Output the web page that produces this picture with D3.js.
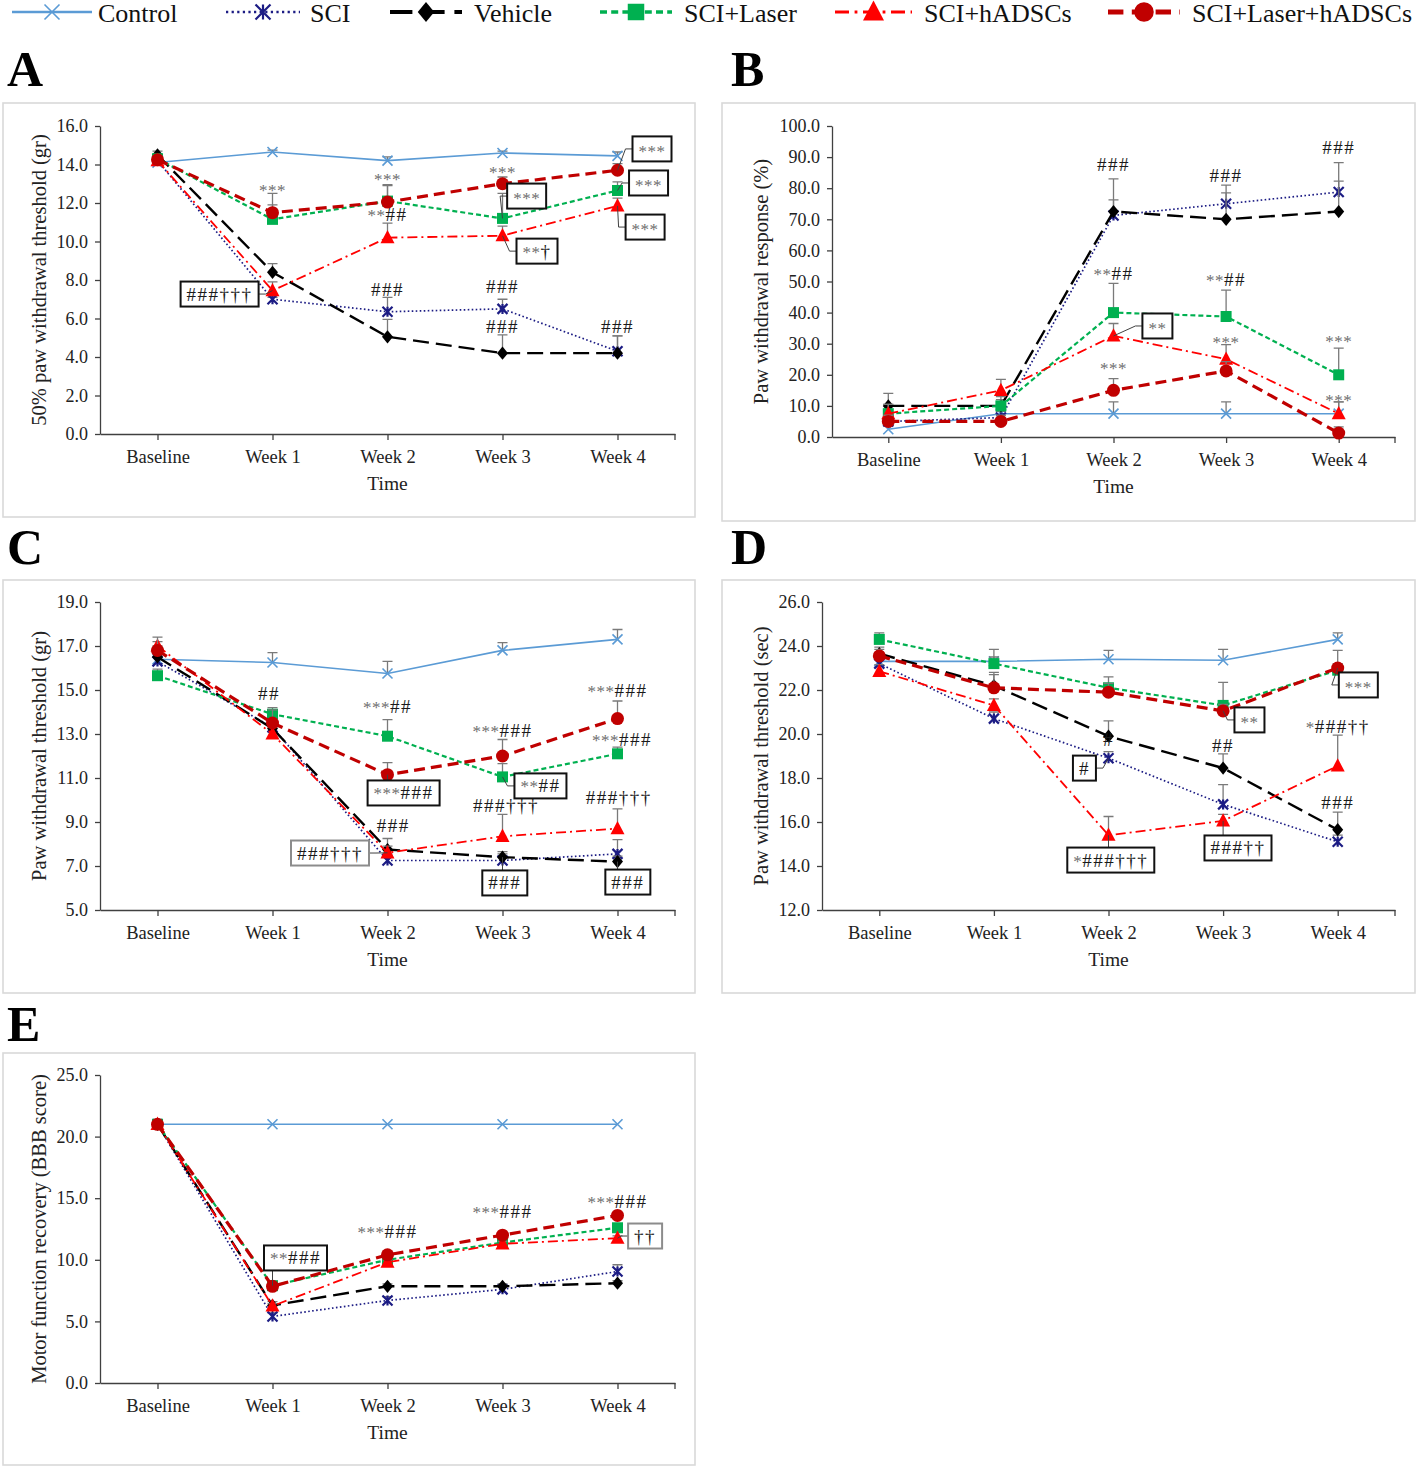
<!DOCTYPE html>
<html>
<head>
<meta charset="utf-8">
<script src="https://cdn.jsdelivr.net/npm/d3@7"></script>
<style>
body{margin:0;background:#fff}
svg text{font-family:"Liberation Serif","DejaVu Serif",serif}
</style>
</head>
<body>
<div id="graphic"></div>
<script>
// ---------------- data ----------------
const categories = ["Baseline", "Week 1", "Week 2", "Week 3", "Week 4"];
const seriesNames = ["Control", "SCI", "Vehicle", "SCI+Laser", "SCI+hADSCs", "SCI+Laser+hADSCs"];

// A: 50% paw withdrawal threshold (gr)
const aControl     = [14.1, 14.65, 14.2, 14.6, 14.45];
const aSCI         = [14.2, 7.0, 6.35, 6.5, 4.3];
const aVehicle     = [14.5, 8.4, 5.05, 4.2, 4.2];
const aLaser       = [14.3, 11.15, 12.1, 11.2, 12.65];
const aHADSC       = [14.2, 7.45, 10.2, 10.3, 11.85];
const aLaserHADSC  = [14.25, 11.5, 12.05, 13.0, 13.7];
const aErr = [[0.2, 0.1, 0.2, 0.1, 0.2], [0.1, 0.1, 0.75, 0.5, 0.8], [0.2, 0.45, 0.9, 0.95, 0.9],
              [0.2, 0.75, 0.8, 1.3, 0.45], [0.2, 0.45, 0.75, 0.5, 0.4], [0.2, 1.0, 0.9, 0.35, 0.35]];

// B: paw withdrawal response (%)
const bControl     = [2.5, 7.5, 7.5, 7.5, 7.5];
const bSCI         = [5, 6.25, 71.25, 75, 78.75];
const bVehicle     = [10, 10, 72.5, 70, 72.5];
const bLaser       = [7.5, 10, 40, 38.75, 20];
const bHADSC       = [7.5, 15, 32.5, 25, 7.5];
const bLaserHADSC  = [5, 5, 15, 21.25, 1.25];
const bErr = [[2, 2, 3.8, 3.8, 3.8], [2, 2, 5, 6, 9.5], [4, 2, 10.5, 8.5, 9.8],
              [3, 3, 9.4, 8.5, 8.6], [3, 3.5, 4, 4.7, 3.8], [2, 2, 3.8, 3, 2]];

// C: paw withdrawal threshold (gr)
const cControl     = [16.4, 16.25, 15.75, 16.8, 17.3];
const cSCI         = [16.3, 13.3, 7.25, 7.25, 7.55];
const cVehicle     = [16.5, 13.25, 7.75, 7.4, 7.2];
const cLaser       = [15.65, 13.9, 12.9, 11.05, 12.1];
const cHADSC       = [17.0, 13.0, 7.6, 8.35, 8.7];
const cLaserHADSC  = [16.8, 13.5, 11.15, 12.0, 13.7];
const cErr = [[0.6, 0.45, 0.55, 0.35, 0.45], [0.2, 0.8, 0.3, 0.3, 0.65], [0.3, 0.8, 0.5, 0.25, 0.25],
              [0.3, 0.3, 0.75, 0.6, 0.3], [0.2, 0.3, 0.3, 1.0, 0.9], [0.6, 0.6, 0.55, 0.75, 0.8]];

// D: paw withdrawal threshold (sec)
const dControl     = [23.3, 23.3, 23.4, 23.35, 24.3];
const dSCI         = [23.2, 20.7, 18.9, 16.8, 15.1];
const dVehicle     = [23.65, 22.2, 19.9, 18.45, 15.65];
const dLaser       = [24.3, 23.2, 22.1, 21.3, 22.9];
const dHADSC       = [22.85, 21.3, 15.4, 16.05, 18.55];
const dLaserHADSC  = [23.55, 22.1, 21.9, 21.05, 23.0];
const dErr = [[0.3, 0.55, 0.4, 0.5, 0.3], [0.3, 0.3, 0.3, 0.9, 0.3], [0.3, 0.6, 0.7, 0.65, 0.8],
              [0.3, 0.3, 0.5, 1.05, 0.3], [0.3, 0.3, 0.85, 0.3, 1.4], [0.3, 0.6, 0.4, 0.3, 0.8]];

// E: BBB score
const eControl     = [21, 21, 21, 21, 21];
const eSCI         = [21, 5.4, 6.7, 7.6, 9.05];
const eVehicle     = [21, 6.3, 7.85, 7.85, 8.1];
const eLaser       = [21, 7.9, 10.0, 11.4, 12.6];
const eHADSC       = [21, 6.25, 9.8, 11.3, 11.75];
const eLaserHADSC  = [21, 7.85, 10.4, 12.0, 13.6];
const eErr = [[0, 0, 0, 0, 0], [0, 0.3, 0.3, 0.3, 0.55], [0, 0.3, 0.2, 0.2, 0.2],
              [0, 0.2, 0.2, 0.2, 0.2], [0, 0.2, 0.2, 0.2, 0.2], [0, 0.2, 0.2, 0.2, 0.2]];

// significance marks: [text, category index, value]
const aNotes = [["***", 1, 12.78], ["***", 2, 13.35], ["**##", 2, 11.38], ["***", 3, 13.7],
                ["###", 2, 7.53], ["###", 3, 7.64], ["###", 3, 5.56], ["###", 4, 5.56]];
const bNotes = [["###", 2, 87.5], ["###", 3, 84.2], ["###", 4, 93.2], ["**##", 2, 52.7], ["**##", 3, 50.5],
                ["***", 2, 22.8], ["***", 3, 31.2], ["***", 4, 31.5], ["***", 4, 12.5]];
const cNotes = [["##", 0.97, 14.82], ["***##", 2, 14.23], ["***###", 3, 13.18], ["***###", 4, 15.0],
                ["***###", 4.04, 12.77], ["###", 2.05, 8.86], ["###†††", 3.03, 9.73], ["###†††", 4.01, 10.1]];
const dNotes = [["#", 2, 19.73], ["##", 3, 19.5], ["*###††", 4, 20.36], ["###", 4, 16.9]];
const eNotes = [["***###", 2, 12.26], ["***###", 3, 13.96], ["***###", 4, 14.77]];

// boxed marks: [text, box index, box value, point index, point value, grey frame]
const aBoxes = [["***", 4.30, 14.81, 4, 13.7, 0], ["***", 4.27, 13.04, 4, 12.65, 0], ["***", 4.24, 10.75, 4, 11.85, 0],
                ["***", 3.21, 12.36, 3, 11.2, 0], ["**†", 3.30, 9.5, 3, 10.3, 0], ["###†††", 0.54, 7.27, 1, 7.45, 0]];
const bBoxes = [["**", 2.39, 35.7, 2, 32.5, 0]];
const cBoxes = [["***###", 2.14, 10.32, 2, 11.15, 0], ["**##", 3.33, 10.64, 3, 11.05, 0], ["###†††", 1.5, 7.59, 2, 7.6, 1],
                ["###", 3.02, 6.23, 3, 7.4, 0], ["###", 4.09, 6.27, 4, 7.2, 0]];
const dBoxes = [["***", 4.18, 22.23, 4, 23.0, 0], ["**", 3.23, 20.64, 3, 21.05, 0], ["#", 1.79, 18.45, 2, 18.9, 0],
                ["*###†††", 2.02, 14.27, 2, 15.4, 0], ["###††", 3.13, 14.82, 3, 16.05, 0]];
const eBoxes = [["**###", 1.2, 10.15, 1, 7.9, 0], ["††", 4.24, 11.93, 4, 11.75, 1]];

// ---------------- styles / layout ----------------
const STYLES = [
    {color: "#5b9bd5", width: 1.6, dash: null,        marker: "x",        size: 5},
    {color: "#1c1c84", width: 1.7, dash: "1.6,2.4",   marker: "star",     size: 5},
    {color: "#000000", width: 2.4, dash: "16,7",      marker: "diamond",  size: 5.5},
    {color: "#00b050", width: 2.2, dash: "5,3",       marker: "square",   size: 5.5},
    {color: "#ff0000", width: 1.8, dash: "10,4,2,4",  marker: "triangle", size: 7},
    {color: "#c00000", width: 3.2, dash: "11,6",      marker: "circle",   size: 6.5}
];
const LEGEND_X = [[12, 92, 98], [226, 300, 310], [390, 462, 474], [600, 672, 684], [835, 912, 924], [1108, 1180, 1192]];

const panels = [
    {id: "A", box: [3, 103, 692, 414], label: [7, 86], left: 100, right: 675, top: 126, bottom: 434, titleX: 39,
     domain: [0, 16], step: 2, ytitle: "50% paw withdrawal threshold (gr)",
     values: [aControl, aSCI, aVehicle, aLaser, aHADSC, aLaserHADSC], err: aErr, notes: aNotes, boxes: aBoxes},
    {id: "B", box: [722, 103, 693, 418], label: [731, 86], left: 832, right: 1395, top: 126, bottom: 437, titleX: 761,
     domain: [0, 100], step: 10, ytitle: "Paw withdrawal response (%)",
     values: [bControl, bSCI, bVehicle, bLaser, bHADSC, bLaserHADSC], err: bErr, notes: bNotes, boxes: bBoxes},
    {id: "C", box: [3, 580, 692, 413], label: [7, 564], left: 100, right: 675, top: 602, bottom: 910, titleX: 39,
     domain: [5, 19], step: 2, ytitle: "Paw withdrawal threshold (gr)",
     values: [cControl, cSCI, cVehicle, cLaser, cHADSC, cLaserHADSC], err: cErr, notes: cNotes, boxes: cBoxes},
    {id: "D", box: [722, 580, 693, 413], label: [731, 564], left: 822, right: 1395, top: 602, bottom: 910, titleX: 761,
     domain: [12, 26], step: 2, ytitle: "Paw withdrawal threshold (sec)",
     values: [dControl, dSCI, dVehicle, dLaser, dHADSC, dLaserHADSC], err: dErr, notes: dNotes, boxes: dBoxes},
    {id: "E", box: [3, 1053, 692, 412], label: [7, 1041], left: 100, right: 675, top: 1075, bottom: 1383, titleX: 39,
     domain: [0, 25], step: 5, ytitle: "Motor function recovery (BBB score)",
     values: [eControl, eSCI, eVehicle, eLaser, eHADSC, eLaserHADSC], err: eErr, notes: eNotes, boxes: eBoxes}
];

const svg = d3.select("#graphic")
    .append("svg")
    .attr("width", 1418)
    .attr("height", 1468);

function addMarker(g, type, cx, cy, s, color){
    if(type == "circle"){
        return g.append("circle").attr("cx", cx).attr("cy", cy).attr("r", s).attr("fill", color)
    }
    if(type == "square"){
        return g.append("rect").attr("x", cx - s).attr("y", cy - s)
            .attr("width", 2*s).attr("height", 2*s).attr("fill", color)
    }
    var d;
    if(type == "diamond"){
        d = `M${cx},${cy - s*1.2}L${cx + s},${cy}L${cx},${cy + s*1.2}L${cx - s},${cy}Z`
        return g.append("path").attr("d", d).attr("fill", color)
    }
    if(type == "triangle"){
        d = `M${cx},${cy - s*1.1}L${cx + s},${cy + s*0.8}L${cx - s},${cy + s*0.8}Z`
        return g.append("path").attr("d", d).attr("fill", color)
    }
    d = `M${cx - s},${cy - s}L${cx + s},${cy + s}M${cx - s},${cy + s}L${cx + s},${cy - s}`
    if(type == "star") d += `M${cx},${cy - s}L${cx},${cy + s}`
    return g.append("path").attr("d", d).attr("fill", "none")
        .attr("stroke", color).attr("stroke-width", type == "star" ? 2.2 : 1.6)
}

// mixed "***###†" text: grey stars, dark hashes/daggers
function addNote(g, text, x, cy){
    var pureStar = /^\*+$/.test(text)
    var t = g.append("text")
        .attr("x", x)
        .attr("y", cy + (pureStar ? 8 : 6.5))
        .attr("text-anchor", "middle")
    text.match(/\*+|[^*]+/g).forEach(function(run){
        var star = run[0] == "*"
        t.append("tspan")
            .text(run)
            .attr("fill", star ? "#6e6e6e" : "#1a1a1a")
            .attr("font-size", star ? 17 : 19)
            .attr("letter-spacing", star ? 0.5 : 1.5)
    })
    return t
}

function drawLegend(){
    var lg = svg.append("g").attr("class", "legend")
    seriesNames.forEach(function(name, i){
        var st = STYLES[i], pos = LEGEND_X[i], ly = 12
        lg.append("line")
            .attr("x1", pos[0]).attr("x2", pos[1]).attr("y1", ly).attr("y2", ly)
            .attr("stroke", st.color)
            .attr("stroke-width", st.width * 1.6)
            .attr("stroke-dasharray", st.dash ? st.dash.split(",").map(v => v * 1.4).join(",") : null)
        addMarker(lg, st.marker, (pos[0] + pos[1]) / 2, ly, st.size * 1.5, st.color)
        lg.append("text")
            .attr("x", pos[2]).attr("y", 22)
            .attr("font-size", 26)
            .attr("fill", "#111")
            .text(name)
    })
}

function drawPanel(p){
    var g = svg.append("g").attr("class", "panel panel" + p.id)

    g.append("rect")
        .attr("x", p.box[0]).attr("y", p.box[1])
        .attr("width", p.box[2]).attr("height", p.box[3])
        .attr("fill", "none")
        .attr("stroke", "#d9d9d9")
        .attr("stroke-width", 1.6)

    g.append("text")
        .attr("x", p.label[0]).attr("y", p.label[1])
        .attr("font-size", 50)
        .attr("font-weight", "bold")
        .text(p.id)

    var x = d3.scalePoint().domain(categories).range([p.left, p.right]).padding(0.5)
    var xi = i => x(categories[0]) + i * x.step()
    var y = d3.scaleLinear().domain(p.domain).range([p.bottom, p.top])

    var yAxis = d3.axisLeft(y)
        .tickValues(d3.range(p.domain[0], p.domain[1] + p.step / 2, p.step))
        .tickFormat(d3.format(".1f"))
        .tickSizeInner(5).tickSizeOuter(0).tickPadding(7)
    var xAxis = d3.axisBottom(x).tickSizeInner(6).tickSizeOuter(0).tickPadding(10)

    g.append("g")
        .attr("class", "y axis")
        .attr("transform", `translate(${p.left},0)`)
        .call(yAxis)
        .call(a => a.attr("font-family", null).attr("font-size", null))
        .call(a => a.selectAll("path,line").attr("stroke", "#404040").attr("stroke-width", 1.3))
        .call(a => a.selectAll("text").attr("font-size", 18).attr("fill", "#222"))

    g.append("g")
        .attr("class", "x axis")
        .attr("transform", `translate(0,${p.bottom})`)
        .call(xAxis)
        .call(a => a.attr("font-family", null).attr("font-size", null))
        .call(a => a.selectAll("path,line").attr("stroke", "#404040").attr("stroke-width", 1.3))
        .call(a => a.selectAll("text").attr("font-size", 18.5).attr("fill", "#222"))
        .call(a => a.append("line")
            .attr("x1", p.right).attr("x2", p.right).attr("y1", 0).attr("y2", 6)
            .attr("stroke", "#404040").attr("stroke-width", 1.3))

    g.append("text")
        .attr("x", (p.left + p.right) / 2)
        .attr("y", p.bottom + 56)
        .attr("text-anchor", "middle")
        .attr("font-size", 19.5)
        .attr("fill", "#222")
        .text("Time")

    g.append("text")
        .attr("transform", `translate(${p.titleX},${(p.top + p.bottom) / 2}) rotate(-90)`)
        .attr("text-anchor", "middle")
        .attr("dy", "0.35em")
        .attr("font-size", 20.5)
        .attr("fill", "#222")
        .text(p.ytitle)

    var line = d3.line().x((d, i) => xi(i)).y(d => y(d))

    p.values.forEach(function(vals, s){
        var st = STYLES[s]
        var sg = g.append("g").attr("class", "series")

        // upper error bars
        vals.forEach(function(v, i){
            var e = p.err[s][i]
            if(e <= 0) return
            sg.append("path")
                .attr("d", `M${xi(i)},${y(v)}V${y(v + e)}M${xi(i) - 5},${y(v + e)}H${xi(i) + 5}`)
                .attr("stroke", "#7a7a7a")
                .attr("stroke-width", 1.3)
                .attr("fill", "none")
        })

        sg.append("path")
            .datum(vals)
            .attr("d", line)
            .attr("fill", "none")
            .attr("stroke", st.color)
            .attr("stroke-width", st.width)
            .attr("stroke-dasharray", st.dash)

        vals.forEach(function(v, i){
            addMarker(sg, st.marker, xi(i), y(v), st.size, st.color)
        })
    })

    var ng = g.append("g").attr("class", "notes")
    p.notes.forEach(function(n){
        addNote(ng, n[0], xi(n[1]), y(n[2]))
    })

    p.boxes.forEach(function(b){
        var bx = xi(b[1]), by = y(b[2]), ax = xi(b[3]), ay = y(b[4])
        var bg = ng.append("g")
        var t = addNote(bg, b[0], bx, by)
        var bb = t.node().getBBox()
        var w = bb.width + 12, h = 25
        var left = bx - w / 2, right = bx + w / 2, top = by - h / 2, bot = by + h / 2
        var pts
        if(ax < left) pts = [[ax, ay], [left - 7, by], [left, by]]
        else if(ax > right) pts = [[ax, ay], [right + 7, by], [right, by]]
        else pts = [[ax, ay], [ax, ay < top ? top : bot]]
        bg.insert("path", "text")
            .attr("d", d3.line()(pts))
            .attr("fill", "none")
            .attr("stroke", "#404040")
            .attr("stroke-width", 1)
        bg.insert("rect", "text")
            .attr("x", left).attr("y", top)
            .attr("width", w).attr("height", h)
            .attr("fill", "#fff")
            .attr("stroke", b[5] ? "#8c8c8c" : "#111")
            .attr("stroke-width", 2)
    })
}

drawLegend()
panels.forEach(drawPanel)
</script>
</body>
</html>
